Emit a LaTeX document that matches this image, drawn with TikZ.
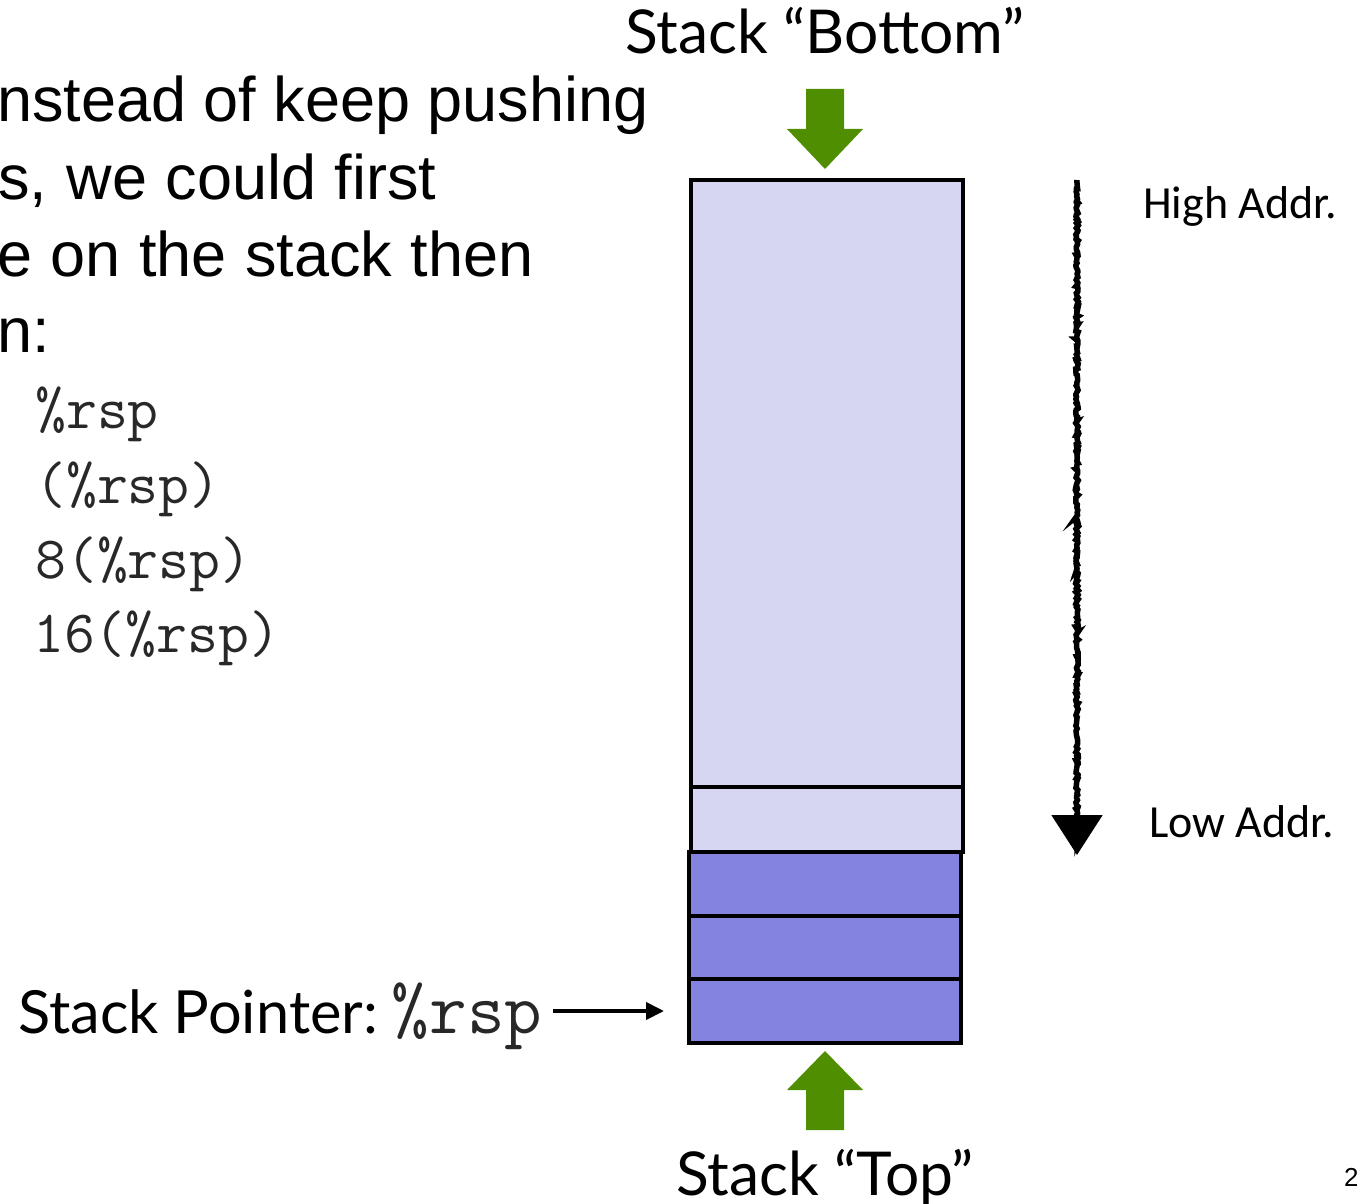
\documentclass[tikz,border=0pt]{standalone}
\usepackage{fontspec}
\setmainfont{Liberation Sans}
\newfontfamily\gillfont{Lato}
\newfontfamily\califont{Carlito}
\usetikzlibrary{arrows.meta,decorations.pathmorphing}
\definecolor{lightcell}{RGB}{214,214,242}
\definecolor{darkcell}{RGB}{132,132,224}
\definecolor{arrowgreen}{RGB}{78,142,0}
\definecolor{codegray}{RGB}{40,40,40}
\tikzset{
  cell/.style={draw=black, line width=4.6pt, minimum width=272pt, inner sep=0pt, outer sep=0pt},
  bodytext/.style={font=\fontsize{63}{77}\selectfont, inner sep=0pt, anchor=base west},
  codetext/.style={font=\ttfamily\fontsize{60}{68}\selectfont, text=codegray, inner sep=0pt, anchor=base west},
  titletext/.style={font=\gillfont\fontsize{60.5}{70}\selectfont, inner sep=0pt, anchor=base},
  addrtext/.style={font=\califont\fontsize{46}{55}\selectfont, inner sep=0pt, anchor=base west},
  greenarrow/.style={fill=arrowgreen, draw=none},
  handarrow/.style={line width=5.5pt, decorate,
    decoration={random steps, segment length=2pt, amplitude=1.3pt, post length=14pt},
    -{Triangle[length=40pt, width=50pt]}},
  ptrarrow/.style={line width=4pt, -{Triangle[length=18pt, width=17pt]}},
}
\begin{document}
\begin{tikzpicture}[x=1pt,y=-1pt]
\useasboundingbox (0,0) rectangle (1357,1204);

% left text
\node[bodytext] (l1) at (-3,122) {nstead of keep pushing};
\node[bodytext] (l2) at (-2,199) {s,\hspace{2pt} we\hspace{1pt} could\hspace{1pt} first};
\node[bodytext] (l3) at (-3,276) {e\hspace{1pt} on\hspace{1pt} the\hspace{1pt} stack\hspace{1pt} then};
\node[bodytext] (l4) at (-3,352) {n:};

\node[codetext] (c1) at (35,428) {\%rsp};
\node[codetext] (c2) at (35,503) {(\%rsp)};
\node[codetext] (c3) at (35,578) {8(\%rsp)};
\node[codetext] (c4) at (33,652) {16(\%rsp)};

% stack cells
\node[cell, fill=lightcell, minimum height=607pt] (big) at (827,483.5) {};
\node[cell, fill=lightcell, minimum height=65pt] (s2) at (827,819.5) {};
\node[cell, fill=darkcell, minimum height=64pt] (s3) at (825,884) {};
\node[cell, fill=darkcell, minimum height=63pt] (s4) at (825,947.5) {};
\node[cell, fill=darkcell, minimum height=64pt] (s5) at (825,1011) {};

% titles
\node[titletext] (bottom) at (825,54) {Stack “Bottom”};
\node[titletext] (top) at (825,1195) {Stack “Top”};

% green arrows
\fill[greenarrow] (825,169) -- (787,129) -- (806,129) -- (806,89) -- (844,89)
  -- (844,129) -- (863,129) -- cycle;
\fill[greenarrow] (825,1051) -- (787,1090) -- (806,1090) -- (806,1130) -- (844,1130)
  -- (844,1090) -- (863,1090) -- cycle;

% stack pointer
\node[inner sep=0pt, anchor=base west] (sp) at (18,1033)
  {{\gillfont\fontsize{59.5}{70}\selectfont Stack Pointer:}\hspace{14pt}{\ttfamily\fontsize{73}{80}\selectfont\color{codegray}\%rsp}};
\draw[ptrarrow, shorten <=10pt, shorten >=25pt] (sp.east |- s5.west) -- (s5.west);

% address arrow
\coordinate (hs) at (1077,180);
\coordinate (he) at (1077,855);
\draw[handarrow] (hs) -- (he);
\node[addrtext] (high) at (1143,218) {High Addr.};
\node[addrtext] (low) at (1149,837) {Low Addr.};

% page number
\node[inner sep=0pt, anchor=base west, font=\fontsize{26}{30}\selectfont] (pg) at (1344,1186) {2};
\end{tikzpicture}
\end{document}
